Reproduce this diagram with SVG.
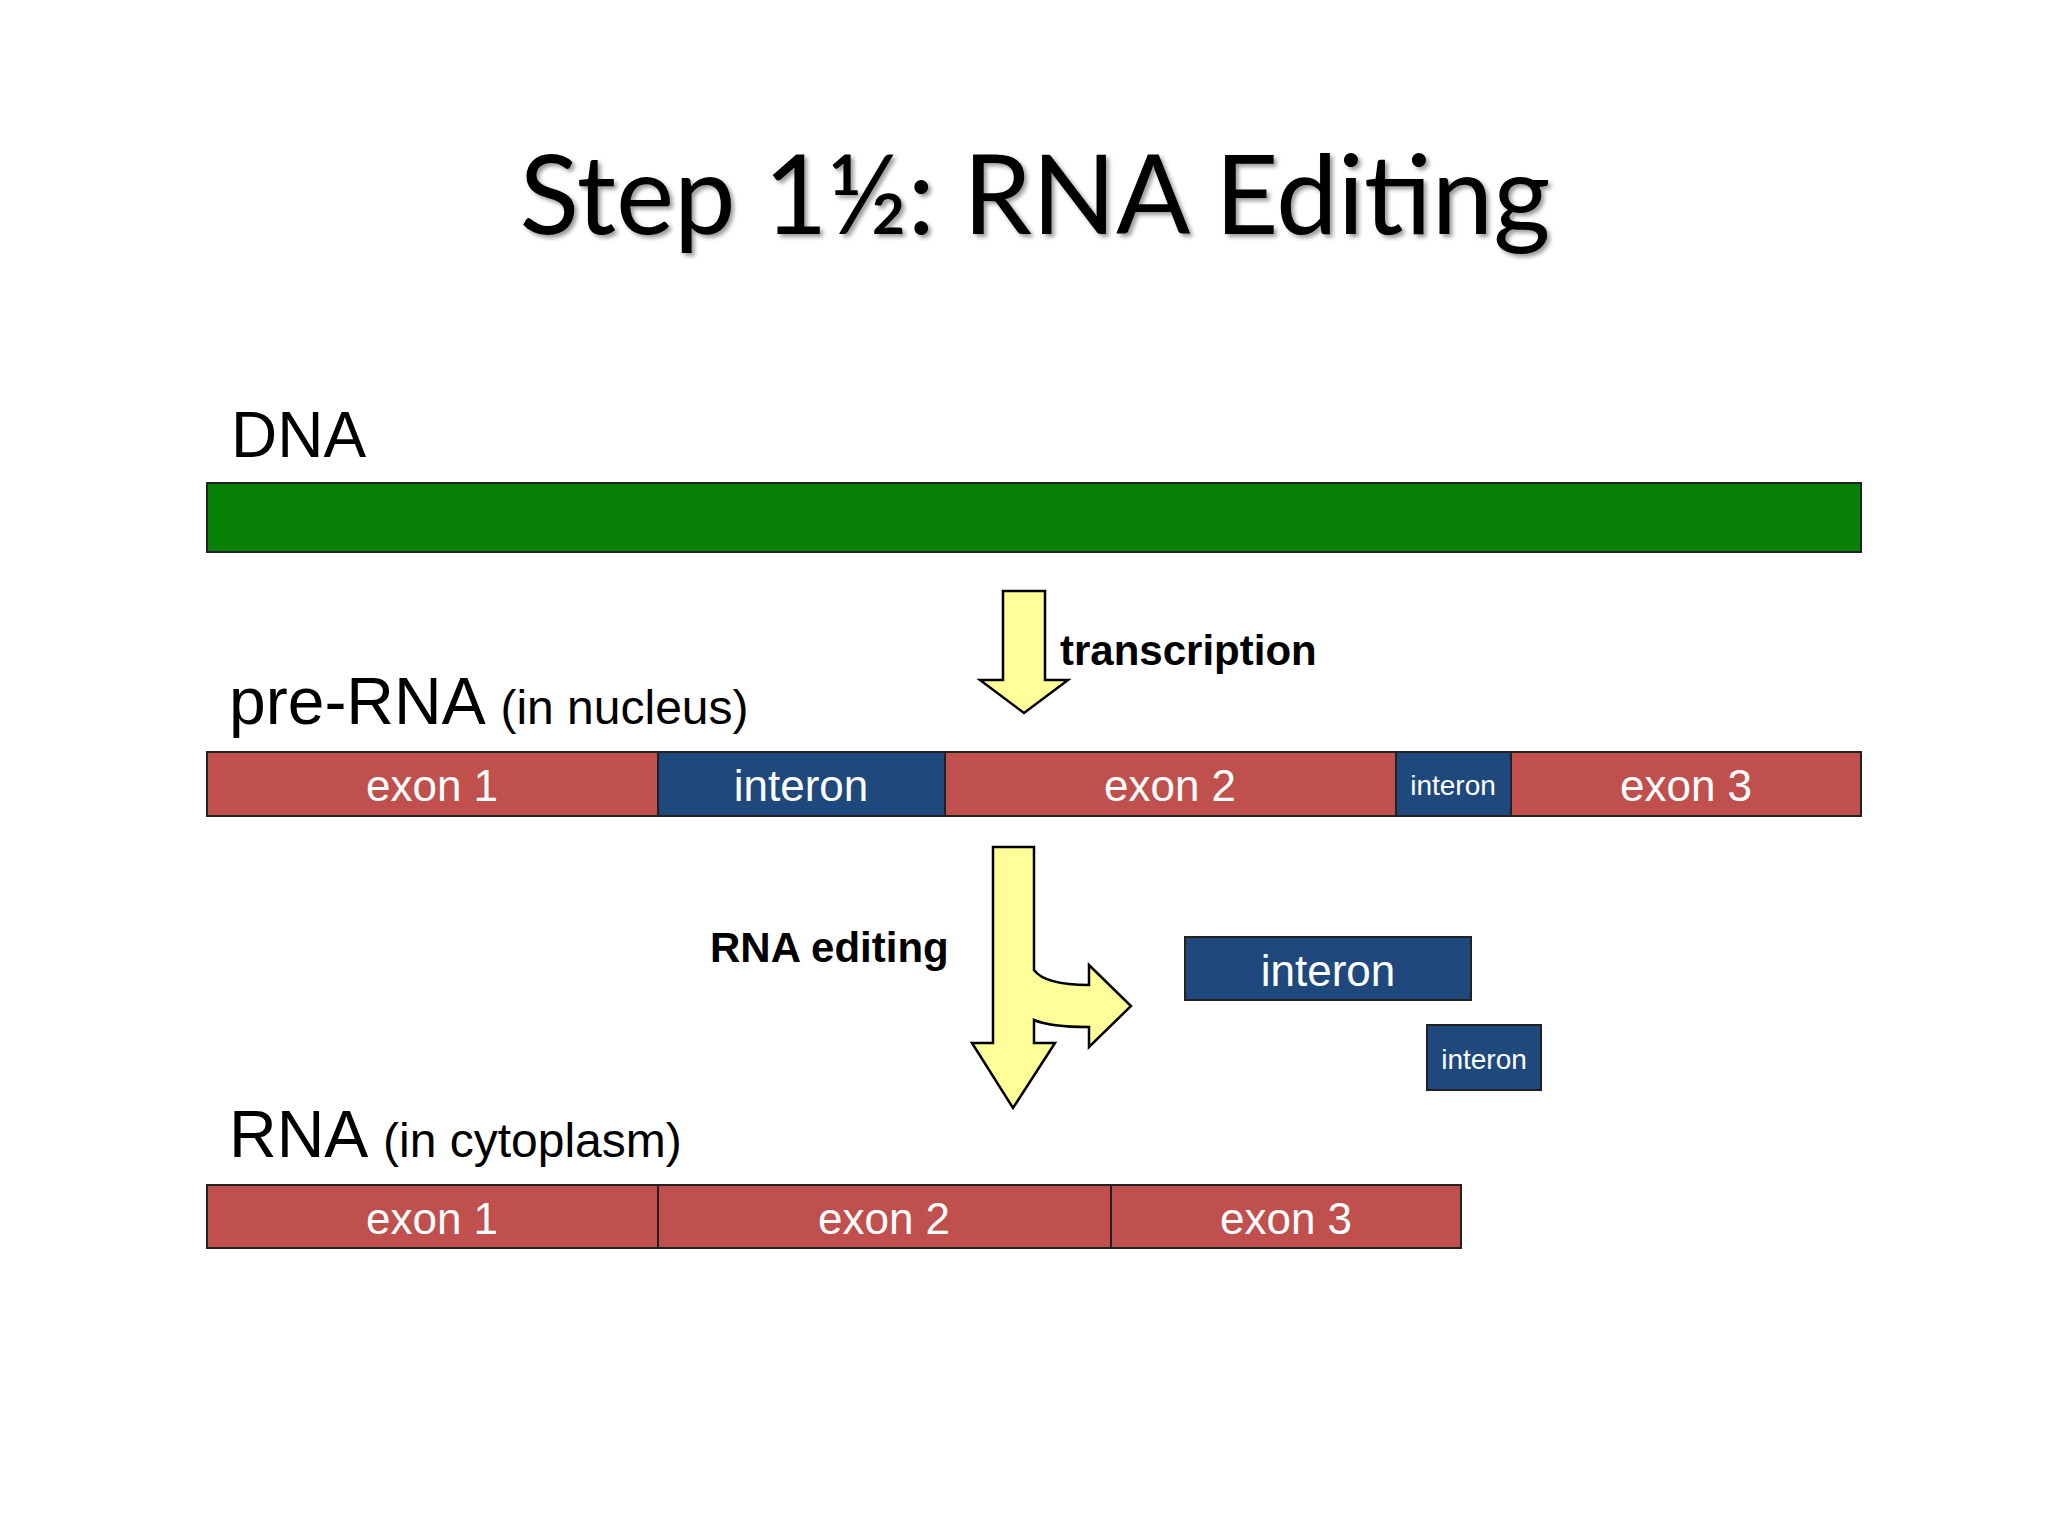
<svg xmlns="http://www.w3.org/2000/svg" width="2048" height="1536" viewBox="0 0 2048 1536">
<style>
.ex{fill:#c0504d;stroke:#222;stroke-width:2}
.in{fill:#1f497d;stroke:#222;stroke-width:2}
.t{font-family:"Liberation Sans",Arial,sans-serif;fill:#fff;text-anchor:middle}
.l{font-family:"Liberation Sans",Arial,sans-serif;fill:#000}
.ar{fill:#ffff99;stroke:#000;stroke-width:2.5;stroke-linejoin:miter}
</style>
<rect width="2048" height="1536" fill="#fff"/>
<text x="1035" y="234" font-family="Lato,'Open Sans',sans-serif" font-size="110" text-anchor="middle" fill="#000" style="filter:drop-shadow(3px 3px 2px #999)">Step 1½: RNA Editing</text>
<g id="dna"><text class="l" x="231" y="457" font-size="64">DNA</text><rect x="207" y="483" width="1654" height="69" fill="#068006" stroke="#222" stroke-width="2"/></g>
<g id="prerna">
<text class="l" x="229" y="724" font-size="66">pre-RNA <tspan font-size="48">(in nucleus)</tspan></text>
<rect class="ex" x="207" y="752" width="451" height="64"/><text class="t" x="432" y="801" font-size="44">exon 1</text>
<rect class="in" x="658" y="752" width="287" height="64"/><text class="t" x="801" y="801" font-size="44">interon</text>
<rect class="ex" x="945" y="752" width="451" height="64"/><text class="t" x="1170" y="801" font-size="44">exon 2</text>
<rect class="in" x="1396" y="752" width="115" height="64"/><text class="t" x="1453" y="795" font-size="28">interon</text>
<rect class="ex" x="1511" y="752" width="350" height="64"/><text class="t" x="1686" y="801" font-size="44">exon 3</text>
</g>
<g id="rna">
<text class="l" x="229" y="1157" font-size="66">RNA <tspan font-size="48">(in cytoplasm)</tspan></text>
<rect class="ex" x="207" y="1185" width="451" height="63"/><text class="t" x="432" y="1234" font-size="44">exon 1</text>
<rect class="ex" x="658" y="1185" width="453" height="63"/><text class="t" x="884" y="1234" font-size="44">exon 2</text>
<rect class="ex" x="1111" y="1185" width="350" height="63"/><text class="t" x="1286" y="1234" font-size="44">exon 3</text>
</g>
<g id="removed">
<rect class="in" x="1185" y="937" width="286" height="63"/><text class="t" x="1328" y="986" font-size="44">interon</text>
<rect class="in" x="1427" y="1025" width="114" height="65"/><text class="t" x="1484" y="1069" font-size="28">interon</text>
</g>
<g id="connectors">
<path class="ar" d="M1003,591 H1045 V680 H1068 L1024,713 L980,680 H1003 Z"/>
<text class="l" x="1060" y="665" font-size="42" font-weight="bold">transcription</text>
<path class="ar" d="M993,847 H1034 V970 Q1045,985 1089,985 V965 L1131,1006 L1089,1047 V1027 Q1050,1027 1034,1020 V1043 H1055 L1013,1108 L972,1043 H993 Z"/>
<text class="l" x="710" y="962" font-size="42" font-weight="bold">RNA editing</text>
</g>
</svg>
